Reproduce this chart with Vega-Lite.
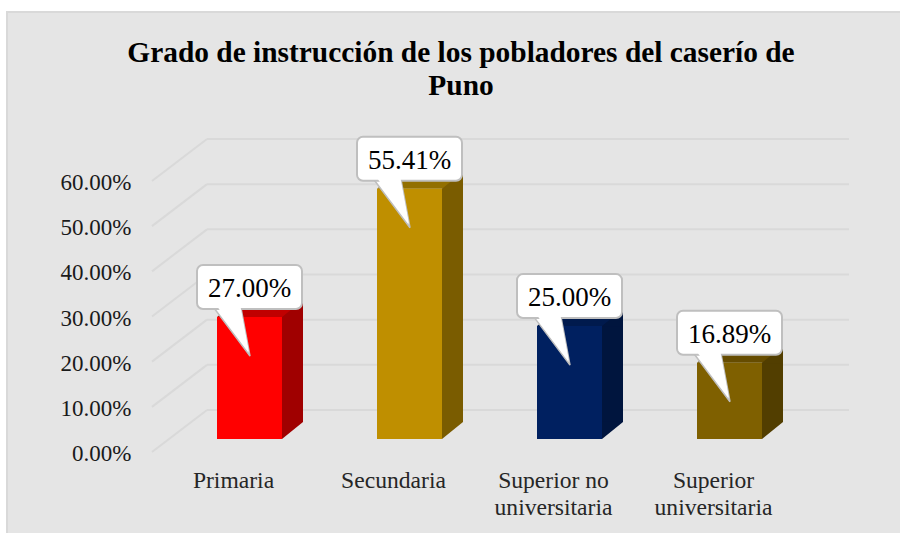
{
  "$schema": "https://vega.github.io/schema/vega-lite/v6.json",
  "autosize": "none",
  "padding": {"left": 7, "top": 12, "right": 0, "bottom": 0},
  "width": 895,
  "height": 523,
  "background": "#ffffff",
  "view": {"fill": "#e5e5e5", "stroke": "#d9d9d9", "strokeWidth": 2},
  "title": {
    "text": ["Grado de instrucción de los pobladores del caserío de", "Puno"],
    "font": "Liberation Serif", "fontSize": 29.4, "fontWeight": "bold", "color": "#000000",
    "anchor": "middle", "frame": "group", "dx": 6.5, "offset": -89, "lineHeight": 33, "baseline": "top"
  },
  "datasets": {
    "bars": [
      {"nivel": "Primaria", "valor": 0.27},
      {"nivel": "Secundaria", "valor": 0.5541},
      {"nivel": "Superior no universitaria", "valor": 0.25},
      {"nivel": "Superior universitaria", "valor": 0.1689}
    ],
    "ticks": [
      {"tick": 0}, {"tick": 0.1}, {"tick": 0.2}, {"tick": 0.3}, {"tick": 0.4}, {"tick": 0.5}, {"tick": 0.6}
    ]
  },
  "resolve": {
    "scale": {"x": "independent", "color": "independent"},
    "axis": {"x": "independent", "y": "independent"}
  },
  "layer": [
    {
      "data": {"name": "ticks"},
      "mark": {"type": "rule", "color": "#d9d9d9", "strokeWidth": 2, "y2Offset": -42},
      "encoding": {
        "x": {"datum": 0, "type": "quantitative", "scale": {"domain": [0, 1], "range": [145, 200]}, "axis": null},
        "x2": {"datum": 1},
        "y": {
          "field": "tick", "type": "quantitative",
          "scale": {"domain": [0, 0.6], "range": [440, 169], "nice": false},
          "axis": {
            "title": null, "format": ".2%", "values": [0, 0.1, 0.2, 0.3, 0.4, 0.5, 0.6],
            "domain": false, "ticks": false, "grid": false, "offset": -124, "labelPadding": 0, "labelOffset": 1.5,
            "labelFont": "Liberation Serif", "labelFontSize": 23, "labelColor": "#1a1a1a", "labelOverlap": false, "labelBound": false
          }
        },
        "y2": {"field": "tick"}
      }
    },
    {
      "data": {"name": "ticks"},
      "mark": {"type": "rule", "color": "#d9d9d9", "strokeWidth": 2, "yOffset": -42},
      "encoding": {
        "x": {"datum": 0, "type": "quantitative", "scale": {"domain": [0, 1], "range": [200, 842]}, "axis": null},
        "x2": {"datum": 1},
        "y": {"field": "tick", "type": "quantitative", "scale": {"domain": [0, 0.6], "range": [440, 169], "nice": false}, "axis": null}
      }
    },
    {
      "data": {"name": "bars"},
      "mark": {"type": "bar", "width": 65, "xOffset": 21, "yOffset": -30, "y2Offset": -13},
      "encoding": {
        "x": {"field": "nivel", "type": "nominal", "sort": null, "scale": {"range": [162.5, 802.5], "paddingInner": 0.59375, "paddingOuter": 0.296875}, "axis": null},
        "y": {"field": "valor", "type": "quantitative", "scale": {"domain": [0, 0.6], "range": [440, 169], "nice": false}, "axis": null},
        "y2": {"field": "valor"},
        "color": {"field": "nivel", "type": "nominal", "sort": null, "legend": null, "scale": {"domain": ["Primaria", "Secundaria", "Superior no universitaria", "Superior universitaria"], "range": ["#c00000", "#926f00", "#001a4d", "#664c00"]}}
      }
    },
    {
      "data": {"name": "bars"},
      "mark": {"type": "point", "shape": "M -32.5 0 L -11.5 -17 L -11 -17 L -11 0 Z", "size": 4, "filled": true, "opacity": 1, "strokeWidth": 0, "yOffset": -13},
      "encoding": {
        "x": {"field": "nivel", "type": "nominal", "sort": null, "scale": {"range": [162.5, 802.5], "paddingInner": 0.59375, "paddingOuter": 0.296875}, "axis": null},
        "y": {"field": "valor", "type": "quantitative", "scale": {"domain": [0, 0.6], "range": [440, 169], "nice": false}, "axis": null},
        "color": {"field": "nivel", "type": "nominal", "sort": null, "legend": null, "scale": {"domain": ["Primaria", "Secundaria", "Superior no universitaria", "Superior universitaria"], "range": ["#c00000", "#926f00", "#001a4d", "#664c00"]}}
      }
    },
    {
      "data": {"name": "bars"},
      "mark": {"type": "bar", "width": 21, "xOffset": 43, "yOffset": -13, "y2Offset": -30},
      "encoding": {
        "x": {"field": "nivel", "type": "nominal", "sort": null, "scale": {"range": [162.5, 802.5], "paddingInner": 0.59375, "paddingOuter": 0.296875}, "axis": null},
        "y": {"field": "valor", "type": "quantitative", "scale": {"domain": [0, 0.6], "range": [440, 169], "nice": false}, "axis": null},
        "y2": {"datum": 0},
        "color": {"field": "nivel", "type": "nominal", "sort": null, "legend": null, "scale": {"domain": ["Primaria", "Secundaria", "Superior no universitaria", "Superior universitaria"], "range": ["#a00000", "#7a5c00", "#00153e", "#523e00"]}}
      }
    },
    {
      "data": {"name": "bars"},
      "mark": {"type": "point", "shape": "M 32.5 0 L 53.5 -17 L 53.5 0.5 L 32.5 0.5 Z", "size": 4, "filled": true, "opacity": 1, "strokeWidth": 0, "yOffset": -13},
      "encoding": {
        "x": {"field": "nivel", "type": "nominal", "sort": null, "scale": {"range": [162.5, 802.5], "paddingInner": 0.59375, "paddingOuter": 0.296875}, "axis": null},
        "y": {"field": "valor", "type": "quantitative", "scale": {"domain": [0, 0.6], "range": [440, 169], "nice": false}, "axis": null},
        "color": {"field": "nivel", "type": "nominal", "sort": null, "legend": null, "scale": {"domain": ["Primaria", "Secundaria", "Superior no universitaria", "Superior universitaria"], "range": ["#a00000", "#7a5c00", "#00153e", "#523e00"]}}
      }
    },
    {
      "data": {"name": "bars"},
      "mark": {"type": "point", "shape": "M 32.5 -17.5 L 53.5 -17.5 L 53.5 -17 L 32.5 0 Z", "size": 4, "filled": true, "opacity": 1, "strokeWidth": 0, "yOffset": -13},
      "encoding": {
        "x": {"field": "nivel", "type": "nominal", "sort": null, "scale": {"range": [162.5, 802.5], "paddingInner": 0.59375, "paddingOuter": 0.296875}, "axis": null},
        "y": {"datum": 0, "type": "quantitative", "scale": {"domain": [0, 0.6], "range": [440, 169], "nice": false}, "axis": null},
        "color": {"field": "nivel", "type": "nominal", "sort": null, "legend": null, "scale": {"domain": ["Primaria", "Secundaria", "Superior no universitaria", "Superior universitaria"], "range": ["#a00000", "#7a5c00", "#00153e", "#523e00"]}}
      }
    },
    {
      "data": {"name": "bars"},
      "mark": {"type": "bar", "width": 65, "yOffset": -13, "y2Offset": -13},
      "encoding": {
        "x": {
          "field": "nivel", "type": "nominal", "sort": null,
          "scale": {"range": [162.5, 802.5], "paddingInner": 0.59375, "paddingOuter": 0.296875},
          "axis": {
            "title": null, "domain": false, "ticks": false, "grid": false, "labelAngle": 0, "offset": -67, "labelPadding": 0,
            "labelOffset": -16, "labelFont": "Liberation Serif", "labelFontSize": 23.6, "labelColor": "#262626", "labelLineHeight": 27,
            "labelOverlap": false, "labelBound": false, "labelLimit": 0, "labelAlign": "center", "labelBaseline": "top",
            "labelExpr": "datum.label == 'Superior no universitaria' ? ['Superior no', 'universitaria'] : datum.label == 'Superior universitaria' ? ['Superior', 'universitaria'] : datum.label"
          }
        },
        "y": {"field": "valor", "type": "quantitative", "scale": {"domain": [0, 0.6], "range": [440, 169], "nice": false}, "axis": null},
        "y2": {"datum": 0},
        "color": {"field": "nivel", "type": "nominal", "sort": null, "legend": null, "scale": {"domain": ["Primaria", "Secundaria", "Superior no universitaria", "Superior universitaria"], "range": ["#ff0000", "#bf8f00", "#002060", "#7f6000"]}}
      }
    },
    {
      "data": {"name": "bars"},
      "mark": {"type": "point", "shape": "M -35.5 -9 L -8.5 -9 L 0.5 39 Z", "size": 4, "filled": true, "fill": "#ffffff", "stroke": "#bfbfbf", "strokeWidth": 1.5, "opacity": 1, "yOffset": -13},
      "encoding": {
        "x": {"field": "nivel", "type": "nominal", "sort": null, "scale": {"range": [162.5, 802.5], "paddingInner": 0.59375, "paddingOuter": 0.296875}, "axis": null},
        "y": {"field": "valor", "type": "quantitative", "scale": {"domain": [0, 0.6], "range": [440, 169], "nice": false}, "axis": null}
      }
    },
    {
      "data": {"name": "bars"},
      "mark": {"type": "bar", "width": 105, "fill": "#ffffff", "stroke": "#bfbfbf", "strokeWidth": 2, "cornerRadius": 6, "yOffset": -65, "y2Offset": -21},
      "encoding": {
        "x": {"field": "nivel", "type": "nominal", "sort": null, "scale": {"range": [162.5, 802.5], "paddingInner": 0.59375, "paddingOuter": 0.296875}, "axis": null},
        "y": {"field": "valor", "type": "quantitative", "scale": {"domain": [0, 0.6], "range": [440, 169], "nice": false}, "axis": null},
        "y2": {"field": "valor"}
      }
    },
    {
      "data": {"name": "bars"},
      "mark": {"type": "point", "shape": "M -34 -13 L -9.5 -13 L -0.5 35 Z", "size": 4, "filled": true, "fill": "#ffffff", "strokeWidth": 0, "opacity": 1, "yOffset": -13},
      "encoding": {
        "x": {"field": "nivel", "type": "nominal", "sort": null, "scale": {"range": [162.5, 802.5], "paddingInner": 0.59375, "paddingOuter": 0.296875}, "axis": null},
        "y": {"field": "valor", "type": "quantitative", "scale": {"domain": [0, 0.6], "range": [440, 169], "nice": false}, "axis": null}
      }
    },
    {
      "data": {"name": "bars"},
      "mark": {"type": "text", "font": "Liberation Serif", "fontSize": 27, "color": "#000000", "align": "center", "baseline": "middle", "yOffset": -41},
      "encoding": {
        "x": {"field": "nivel", "type": "nominal", "sort": null, "scale": {"range": [162.5, 802.5], "paddingInner": 0.59375, "paddingOuter": 0.296875}, "axis": null},
        "y": {"field": "valor", "type": "quantitative", "scale": {"domain": [0, 0.6], "range": [440, 169], "nice": false}, "axis": null},
        "text": {"field": "valor", "type": "quantitative", "format": ".2%"}
      }
    }
  ]
}
